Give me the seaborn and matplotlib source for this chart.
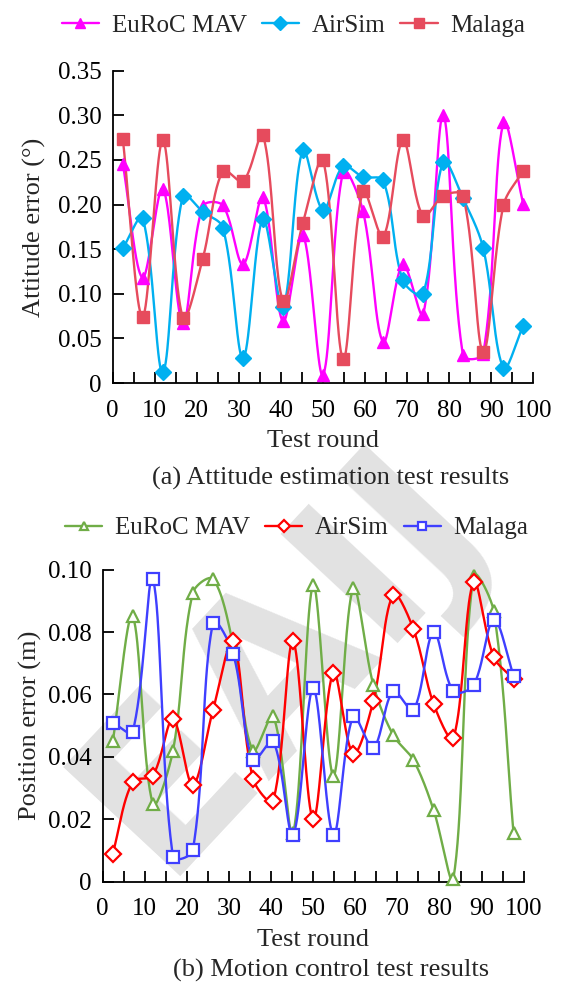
import numpy as np
import pandas as pd
import matplotlib
matplotlib.use("Agg")
import matplotlib.pyplot as plt
from matplotlib.lines import Line2D
import seaborn as sns

# ---------------- data ----------------
rounds = [2.4, 7.1, 11.9, 16.7, 21.4, 26.2, 31.0, 35.7, 40.5, 45.2, 50.0,
          54.8, 59.5, 64.3, 69.0, 73.8, 78.6, 83.3, 88.1, 92.9, 97.6]

att_euroc = [0.246, 0.118, 0.218, 0.067, 0.198, 0.199, 0.133, 0.208, 0.069, 0.166, 0.009,
             0.237, 0.193, 0.046, 0.133, 0.077, 0.300, 0.031, 0.033, 0.292, 0.201]
att_airsim = [0.151, 0.185, 0.012, 0.210, 0.192, 0.174, 0.028, 0.184, 0.085, 0.261, 0.194,
              0.243, 0.231, 0.227, 0.115, 0.100, 0.248, 0.207, 0.151, 0.017, 0.064]
att_malaga = [0.274, 0.074, 0.272, 0.073, 0.139, 0.238, 0.226, 0.278, 0.092, 0.179, 0.250,
              0.027, 0.215, 0.164, 0.272, 0.187, 0.210, 0.210, 0.035, 0.199, 0.238]

pos_euroc = [0.045, 0.085, 0.025, 0.042, 0.0925, 0.097, 0.076, 0.042, 0.053, 0.0155, 0.095,
             0.034, 0.094, 0.063, 0.047, 0.039, 0.023, 0.001, 0.098, 0.0866, 0.0155]
pos_airsim = [0.009, 0.032, 0.034, 0.052, 0.031, 0.055, 0.077, 0.033, 0.026, 0.077, 0.020,
              0.067, 0.041, 0.058, 0.092, 0.081, 0.057, 0.046, 0.096, 0.072, 0.065]
pos_malaga = [0.051, 0.048, 0.097, 0.008, 0.010, 0.083, 0.073, 0.039, 0.045, 0.015, 0.062,
              0.015, 0.053, 0.043, 0.061, 0.055, 0.080, 0.061, 0.063, 0.084, 0.066]

series_names = ["EuRoC MAV", "AirSim", "Malaga"]
att_ticks = [0, 0.05, 0.10, 0.15, 0.20, 0.25, 0.30, 0.35]
att_ticklabels = ["0", "0.05", "0.10", "0.15", "0.20", "0.25", "0.30", "0.35"]
pos_ticks = [0, 0.02, 0.04, 0.06, 0.08, 0.10]
pos_ticklabels = ["0", "0.02", "0.04", "0.06", "0.08", "0.10"]
x_ticks = list(range(0, 101, 10))
watermark = "EAIJ"

# ---------------- style ----------------
sns.set_style("white")
plt.rcParams["font.family"] = ["Liberation Serif", "DejaVu Serif"]

FS_TICK = 18
FS_LAB = 19


def smooth(xs, ys, sx, sy, n=40):
    """Smoothed Bezier curve through the data points (chord-weighted tangents,
    computed in display-like units sx, sy per data unit)."""
    P = np.column_stack([np.asarray(xs) * sx, np.asarray(ys) * sy]).astype(float)
    N = len(P)
    cin = P.copy()
    cout = P.copy()
    for i in range(N):
        p0 = P[max(i - 1, 0)]
        p2 = P[min(i + 1, N - 1)]
        T = p2 - p0
        d01 = np.hypot(*(P[i] - p0))
        d12 = np.hypot(*(p2 - P[i]))
        tot = d01 + d12
        if tot == 0:
            continue
        cin[i] = P[i] - T * (d01 / tot) / 3.0
        cout[i] = P[i] + T * (d12 / tot) / 3.0
    t = np.linspace(0, 1, n)[:, None]
    out = []
    for i in range(N - 1):
        p1, c1, c2, p2 = P[i], cout[i], cin[i + 1], P[i + 1]
        seg = ((1 - t) ** 3) * p1 + 3 * ((1 - t) ** 2) * t * c1 + 3 * (1 - t) * t ** 2 * c2 + t ** 3 * p2
        out.append(seg if i == 0 else seg[1:])
    out = np.vstack(out)
    return out[:, 0] / sx, out[:, 1] / sy


fig = plt.figure(figsize=(5.62, 9.89), dpi=100)
ax1 = fig.add_axes([0.2005, 0.6127, 0.7484, 0.3158])
ax2 = fig.add_axes([0.1827, 0.1085, 0.7491, 0.3155])
for a in (ax1, ax2):
    a.patch.set_alpha(0.0)

# faint background watermark
fig.text(0.50, 0.335, watermark, rotation=47, ha="center", va="center",
         fontsize=158, fontweight="bold", color="#E2E2E2", zorder=-5,
         family=["DejaVu Sans"])


def draw(ax, data_list, colors, markers, filled, ms, mew, ypx):
    handles = []
    for name, vals, c, m in zip(series_names, data_list, colors, markers):
        sx_, sy_ = smooth(rounds, vals, 4.2, ypx)
        sns.lineplot(x=sx_, y=sy_, ax=ax, color=c, linewidth=1.7, sort=False,
                     estimator=None, legend=False, zorder=2)
        df = pd.DataFrame({"x": rounds, "y": vals})
        fc = c if filled else "white"
        ax.plot(df["x"], df["y"], linestyle="none", marker=m, markersize=ms,
                markerfacecolor=fc, markeredgecolor=c, markeredgewidth=mew,
                zorder=3, clip_on=False)
        handles.append(Line2D([0], [0], color=c, linewidth=1.7, marker=m,
                              markersize=ms * 0.8, markerfacecolor=fc,
                              markeredgecolor=c, markeredgewidth=mew))
    return handles


def style_axes(ax, yticks, yticklabels, ylim):
    ax.set_xlim(0, 100)
    ax.set_ylim(*ylim)
    ax.set_xticks(x_ticks)
    ax.set_xticklabels([str(v) for v in x_ticks])
    ax.set_xticks(list(range(5, 100, 10)), minor=True)
    ax.set_yticks(yticks)
    ax.set_yticklabels(yticklabels)
    for s in ["top", "right"]:
        ax.spines[s].set_visible(False)
    for s in ["left", "bottom"]:
        ax.spines[s].set_color("black")
        ax.spines[s].set_linewidth(1.3)
    ax.tick_params(axis="both", which="both", direction="in", length=8, width=1.3,
                   colors="black", labelsize=FS_TICK)
    ax.tick_params(axis="x", which="both", bottom=True, pad=12)
    ax.tick_params(axis="y", which="both", left=True, pad=8)
    ax.grid(False)


h1 = draw(ax1, [att_euroc, att_airsim, att_malaga],
          ["#FF00FF", "#00B0F0", "#E64B5D"], ["^", "D", "s"], True, 8.5, 1.0, 891.0)
style_axes(ax1, att_ticks, att_ticklabels, (0, 0.35))
ax1.set_xlabel("Test round", fontsize=FS_LAB)
ax1.set_ylabel("Attitude error (°)", fontsize=FS_LAB)
ax1.xaxis.set_label_coords(0.5, -0.15)
ax1.yaxis.set_label_coords(-0.158, 0.5)

h2 = draw(ax2, [pos_euroc, pos_airsim, pos_malaga],
          ["#70AD47", "#FF0000", "#3F3FFF"], ["^", "D", "s"], False, 8, 1.6, 3120.0)
style_axes(ax2, pos_ticks, pos_ticklabels, (0, 0.10))
ax2.set_xlabel("Test round", fontsize=FS_LAB)
ax2.set_ylabel("Position error (m)", fontsize=FS_LAB)
ax2.xaxis.set_label_coords(0.5, -0.153)
ax2.yaxis.set_label_coords(-0.144, 0.5)

fig.legend(h1, series_names, loc="center", bbox_to_anchor=(0.522, 0.974), ncol=3,
           frameon=False, fontsize=FS_TICK, handlelength=1.5, handletextpad=0.5,
           columnspacing=0.6)
fig.legend(h2, series_names, loc="center", bbox_to_anchor=(0.528, 0.466), ncol=3,
           frameon=False, fontsize=FS_TICK, handlelength=1.5, handletextpad=0.5,
           columnspacing=0.6)

fig.text(0.589, 0.5167, "(a) Attitude estimation test results", ha="center", va="center",
         fontsize=FS_LAB)
fig.text(0.589, 0.0192, "(b) Motion control test results", ha="center", va="center",
         fontsize=FS_LAB)

fig.savefig("out.png", dpi=100, facecolor="white")
